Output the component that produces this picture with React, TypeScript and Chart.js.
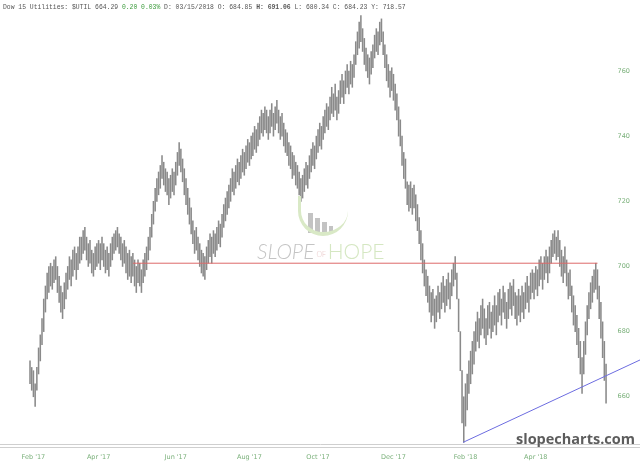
import React, { useEffect, useRef } from 'react';
import { Chart, registerables } from 'chart.js';
Chart.register(...registerables);

// Daily high/low of Dow 15 Utilities ($UTIL), one entry per trading day
const lows = [
  664, 662, 660, 657, 662, 667, 671, 676, 680, 686,
  690, 692, 694, 693, 695, 696, 692, 689, 686, 684,
  687, 690, 693, 696, 694, 697, 699, 696, 699, 701,
  702, 704, 705, 702, 700, 701, 698, 697, 699, 700,
  701, 699, 702, 700, 698, 699, 697, 700, 702, 704,
  705, 706, 704, 702, 700, 701, 698, 696, 697, 695,
  697, 694, 692, 695, 694, 692, 695, 697, 699, 702,
  705, 709, 713, 717, 720, 722, 724, 727, 725, 723,
  722, 719, 721, 723, 722, 725, 728, 731, 729, 726,
  722, 719, 716, 713, 710, 707, 704, 705, 702, 700,
  698, 697, 696, 699, 701, 703, 701, 704, 703, 705,
  707, 706, 709, 712, 714, 716, 718, 720, 723, 722,
  724, 726, 725, 727, 729, 728, 730, 732, 731, 733,
  734, 736, 735, 737, 739, 741, 740, 742, 741, 739,
  741, 743, 740, 742, 744, 741, 739, 740, 737, 735,
  734, 731, 730, 727, 728, 725, 724, 722, 720, 721,
  723, 725, 724, 727, 729, 731, 730, 733, 735, 737,
  736, 739, 741, 743, 742, 745, 747, 746, 748, 745,
  747, 750, 752, 750, 753, 755, 753, 756, 755, 758,
  762, 765, 767, 769, 766, 762, 760, 758, 756, 759,
  761, 764, 766, 765, 768, 769, 765, 761, 757, 755,
  752, 754, 751, 748, 745, 740, 737, 731, 727, 724,
  719, 717, 718, 716, 718, 714, 711, 707, 702, 698,
  694, 691, 689, 686, 683, 685, 681, 683, 686, 684,
  687, 689, 686, 688, 690, 687, 691, 694, 696, 690,
  680, 668, 652, 646, 651, 656, 661, 664, 667, 670,
  674, 677, 675, 679, 681, 678, 676, 679, 681, 678,
  680, 682, 679, 683, 685, 682, 686, 684, 681, 684,
  687, 685, 688, 684, 682, 685, 683, 686, 684, 687,
  689, 686, 690, 692, 690, 693, 691, 694, 696, 693,
  696, 698, 695, 698, 701, 703, 704, 702, 703, 700,
  697, 695, 698, 694, 690, 691, 686, 682, 680, 676,
  672, 667, 661, 667, 673, 679, 684, 687, 689, 692,
  693, 690, 684, 678, 672, 665, 658,
];
const highs = [
  671, 669, 668, 664, 669, 675, 679, 684, 690, 694,
  698, 700, 701, 700, 702, 703, 700, 697, 694, 692,
  695, 698, 700, 703, 702, 705, 706, 704, 706, 709,
  709, 711, 712, 709, 707, 708, 705, 704, 706, 707,
  708, 707, 709, 707, 705, 706, 704, 707, 709, 710,
  711, 712, 710, 709, 707, 708, 706, 704, 705, 703,
  704, 702, 700, 702, 701, 699, 702, 704, 706, 709,
  712, 716, 720, 724, 727, 729, 731, 734, 732, 730,
  729, 727, 728, 730, 729, 732, 735, 738, 736, 733,
  730, 727, 724, 721, 718, 714, 711, 712, 709, 707,
  705, 704, 703, 706, 708, 710, 709, 711, 710, 712,
  714, 713, 716, 719, 721, 723, 725, 727, 730, 729,
  731, 733, 732, 734, 736, 735, 737, 739, 738, 740,
  741, 743, 742, 744, 746, 748, 747, 749, 748, 746,
  748, 750, 747, 749, 751, 748, 746, 747, 744, 742,
  741, 738, 737, 735, 734, 732, 731, 729, 727, 728,
  730, 732, 731, 734, 736, 738, 737, 740, 742, 744,
  743, 746, 748, 750, 749, 752, 755, 753, 756, 752,
  754, 757, 759, 757, 760, 762, 760, 763, 762, 765,
  769, 772, 775, 777, 773, 770, 767, 765, 764, 766,
  768, 771, 773, 772, 775, 776, 772, 768, 765, 762,
  760, 761, 759, 756, 753, 749, 745, 740, 735, 733,
  726, 725, 726, 724, 725, 722, 719, 715, 711, 707,
  702, 699, 697, 694, 692, 693, 690, 691, 694, 692,
  695, 697, 694, 696, 698, 695, 699, 701, 703, 698,
  690, 680, 668, 660, 664, 667, 671, 674, 677, 680,
  683, 686, 684, 688, 690, 687, 684, 688, 689, 686,
  688, 691, 688, 692, 693, 690, 694, 692, 689, 693,
  695, 694, 696, 692, 691, 693, 691, 694, 692, 695,
  697, 694, 698, 699, 698, 700, 699, 702, 703, 701,
  703, 705, 703, 706, 708, 710, 711, 709, 711, 708,
  705, 703, 706, 702, 698, 699, 694, 691, 688, 685,
  681, 677, 672, 677, 683, 688, 692, 695, 697, 699,
  701, 699, 694, 689, 683, 677, 670,
];

const monthTickIdx = [2, 40, 85, 128, 168, 212, 254, 295];
const monthLabels = ["Feb '17", "Apr '17", "Jun '17", "Aug '17", "Oct '17", "Dec '17", "Feb '18", "Apr '18"];
const yTicks = [660, 680, 700, 720, 740, 760];

// drawn lines: horizontal resistance and rising support trendline
const resistX = [60, 331];
const resistY = [701, 701];
const trendX = [252.6, 355.8];
const trendY = [646, 671.3];

const bottomLines = {
  id: 'bottomLines',
  afterDraw(chart: any) {
    const { ctx, chartArea } = chart;
    ctx.save();
    ctx.strokeStyle = '#cfcfcf';
    ctx.lineWidth = 1;
    ctx.beginPath();
    ctx.moveTo(0, chartArea.bottom + 3.5);
    ctx.lineTo(chart.width, chartArea.bottom + 3.5);
    ctx.stroke();
    ctx.restore();
  },
};

export default function App() {
  const ref = useRef<HTMLCanvasElement>(null);
  useEffect(() => {
    const bars = lows.map((l, i) => ({ x: i, y: [l, highs[i]] }));
    const chart = new Chart(ref.current as HTMLCanvasElement, {
      type: 'bar',
      data: {
        datasets: [
          {
            type: 'line',
            data: resistX.map((x, i) => ({ x, y: resistY[i] })),
            borderColor: '#dd6a6a',
            borderWidth: 1,
            pointRadius: 0,
            order: 1,
          } as any,
          {
            type: 'line',
            data: trendX.map((x, i) => ({ x, y: trendY[i] })),
            borderColor: '#6c6ce0',
            borderWidth: 1,
            pointRadius: 0,
            order: 1,
          } as any,
          {
            type: 'bar',
            data: bars as any,
            backgroundColor: '#8a8a8a',
            barThickness: 0.9,
            order: 2,
          } as any,
        ],
      },
      options: {
        animation: false,
        responsive: true,
        maintainAspectRatio: false,
        layout: { padding: { top: 14, left: 0, right: 0, bottom: 0 } },
        plugins: { legend: { display: false }, tooltip: { enabled: false } },
        scales: {
          x: {
            type: 'linear',
            offset: false,
            min: -17.5,
            max: 355.8,
            grid: { display: false, drawTicks: false },
            border: { display: true, color: '#cfcfcf' },
            afterBuildTicks: (s: any) => {
              s.ticks = monthTickIdx.map((v) => ({ value: v }));
            },
            afterFit: (s: any) => {
              s.height = 22;
            },
            ticks: {
              autoSkip: false,
              maxRotation: 0,
              padding: 9,
              font: { size: 6.5, family: 'DejaVu Sans' },
              color: '#7ab07a',
              callback: (v: any) => {
                const k = monthTickIdx.indexOf(Number(v));
                return k >= 0 ? monthLabels[k] : '';
              },
            },
          },
          y: {
            type: 'linear',
            position: 'right',
            min: 645.5,
            max: 777.5,
            grid: { display: false, drawTicks: false },
            border: { display: false },
            afterBuildTicks: (s: any) => {
              s.ticks = yTicks.map((v) => ({ value: v }));
            },
            ticks: {
              mirror: true,
              padding: -10,
              font: { size: 6.5, family: 'DejaVu Sans' },
              color: '#7ab07a',
            },
          },
        } as any,
      },
      plugins: [bottomLines],
    });
    return () => chart.destroy();
  }, []);

  return (
    <div style={{ position: 'absolute', left: 0, top: 0, width: 640, height: 466, background: '#fff', overflow: 'hidden' }}>
      <canvas ref={ref} style={{ position: 'absolute', left: 0, top: 0, width: 640, height: 466 }} />
      <div
        style={{
          position: 'absolute', left: 3, top: 3, fontFamily: '"Liberation Mono", monospace', fontSize: '6.4px',
          lineHeight: '9px', color: '#555', whiteSpace: 'pre',
        }}
      >
        {'Dow 15 Utilities: $UTIL 664.29 '}
        <span style={{ color: '#3a9a3a' }}>{'0.20 0.03%'}</span>
        {' D: 03/15/2018 O: 684.85 '}
        <b>{'H: 691.06'}</b>
        {' L: 680.34 C: 684.23 Y: 718.57'}
      </div>
      {/* watermark logo */}
      <div style={{ position: 'absolute', left: 308, top: 213, width: 5, height: 20, background: '#c3c3c3' }} />
      <div style={{ position: 'absolute', left: 315, top: 218, width: 5, height: 15, background: '#c3c3c3' }} />
      <div style={{ position: 'absolute', left: 322, top: 222, width: 5, height: 11, background: '#c3c3c3' }} />
      <div style={{ position: 'absolute', left: 329, top: 226, width: 4, height: 7, background: '#c3c3c3' }} />
      <div
        style={{
          position: 'absolute', left: 298, top: 196, width: 50, height: 40, borderBottom: '4px solid #d9e9c6',
          borderLeft: '3px solid #d9e9c6', borderRadius: '0 0 30px 30px', boxSizing: 'border-box',
        }}
      />
      <div
        style={{
          position: 'absolute', left: 257, top: 238, fontFamily: 'Lato, "Open Sans", sans-serif', fontWeight: 300,
          fontSize: '21px', lineHeight: '26px', whiteSpace: 'pre',
        }}
      >
        <span style={{ color: '#c4c4c4', fontStyle: 'italic' }}>SLOPE</span>
        <span style={{ color: '#e8c6c6', fontSize: '7px', verticalAlign: 'middle' }}>{' OF '}</span>
        <span style={{ color: '#d5e7c2' }}>HOPE</span>
      </div>
      <div
        style={{
          position: 'absolute', left: 516, top: 430, fontFamily: '"Open Sans", sans-serif', fontWeight: 700,
          fontSize: '14.5px', lineHeight: '18px', color: '#5c5c5c',
        }}
      >
        slopecharts.com
      </div>
    </div>
  );
}
